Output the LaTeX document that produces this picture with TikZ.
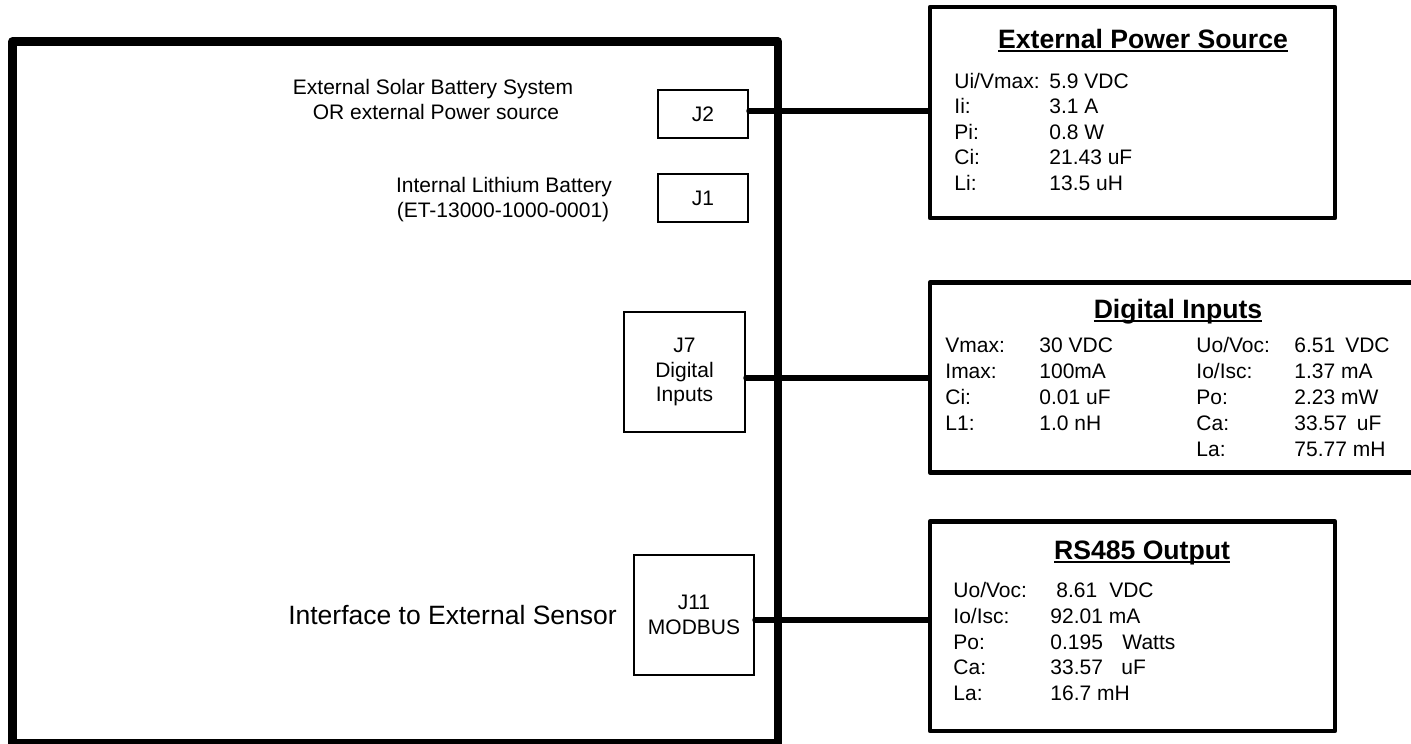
\documentclass[tikz,border=0pt]{standalone}
\usepackage{fontspec}
\setmainfont{Liberation Sans}
\newcommand\bodyfont{\fontsize{10.5}{12.2}\selectfont}
\newcommand\ttlfont{\fontsize{13.3}{16}\selectfont\bfseries}
\newcommand\bigfont{\fontsize{13.25}{16}\selectfont}
\newcommand\ulbox[1]{\sbox0{#1}\rlap{\rule[-1.9pt]{\wd0}{1.35pt}}\usebox0}
\begin{document}
\begin{tikzpicture}[x=0.5pt,y=-0.5pt,
  txt/.style={inner sep=0pt, anchor=base west, font=\bodyfont},
  ctxt/.style={inner sep=0pt, anchor=base, font=\bodyfont},
  ttl/.style={inner sep=0pt, anchor=base, font=\ttlfont},
  jbox/.style={draw, line width=1pt, inner sep=0pt, font=\bodyfont, align=center},
  panel/.style={draw, line width=2.25pt, line join=round, inner sep=0pt},
  mainbox/.style={draw, line width=4.25pt, line join=round, inner sep=0pt},
  wire/.style={line width=2.75pt, line cap=round}]
\clip (0,0) rectangle (1411,743);
% main enclosure
\node[mainbox, minimum width=382.75pt, minimum height=351pt] (main) at (395.25,392.5) {};
% connectors on the board
\node[jbox, minimum width=45pt, minimum height=24pt] (j2) at (703,114) {J2};
\node[jbox, minimum width=45pt, minimum height=24pt] (j1) at (703,198) {J1};
\node[jbox, minimum width=60.5pt, minimum height=60pt] (j7) at (684.5,372) {J7\\Digital\\Inputs};
\node[jbox, minimum width=60pt, minimum height=60pt] (j11) at (694,615) {J11\\MODBUS};
% board texts
\node[ctxt] (s1) at (433,94.5) {External Solar Battery System};
\node[ctxt] (s2) at (436,119.5) {OR external Power source};
\node[ctxt] (b1) at (504,192.5) {Internal Lithium Battery};
\node[ctxt] (b2) at (503,217.5) {(ET-13000-1000-0001)};
\node[inner sep=0pt, anchor=base, font=\bigfont] (ifc) at (452.5,624.5) {Interface to External Sensor};
% panels
\node[panel, minimum width=202.5pt, minimum height=105.5pt] (eps) at (1132.5,112.5) {};
\node[panel, minimum width=250pt, minimum height=95pt] (di) at (1180,377.5) {};
\node[panel, minimum width=202.5pt, minimum height=104.75pt] (rs) at (1132.5,626.25) {};
% wires
\path ([yshift=1.5pt]j2.east) coordinate (w2);
\draw[wire] (w2) -- (w2 -| eps.west);
\path ([yshift=-3pt]j7.east) coordinate (w7);
\draw[wire] (w7) -- (w7 -| di.west);
\path ([yshift=-2.5pt]j11.east) coordinate (w11);
\draw[wire] (w11) -- (w11 -| rs.west);
% External Power Source
\node[ttl] (epst) at (1143,48.5) {\ulbox{External Power Source}};
\node[txt] (el1) at (954,88.5) {Ui/Vmax:};
\node[txt] (ev1) at (1049,88.5) {5.9 VDC};
\node[txt] (el2) at (954,114) {Ii:};
\node[txt] (ev2) at (1049,114) {3.1 A};
\node[txt] (el3) at (954,139.5) {Pi:};
\node[txt] (ev3) at (1049,139.5) {0.8 W};
\node[txt] (el4) at (954,165) {Ci:};
\node[txt] (ev4) at (1049,165) {21.43 uF};
\node[txt] (el5) at (954,190.5) {Li:};
\node[txt] (ev5) at (1049,190.5) {13.5 uH};
% Digital Inputs
\node[ttl] (dit) at (1178,318.5) {\ulbox{Digital Inputs}};
\node[txt] (dl1) at (945,352.5) {Vmax:};
\node[txt] (dv1) at (1039,352.5) {30 VDC};
\node[txt] (dl2) at (945,378.5) {Imax:};
\node[txt] (dv2) at (1039,378.5) {100mA};
\node[txt] (dl3) at (945,404.5) {Ci:};
\node[txt] (dv3) at (1039,404.5) {0.01 uF};
\node[txt] (dl4) at (945,430.5) {L1:};
\node[txt] (dv4) at (1039,430.5) {1.0 nH};
\node[txt] (dr1) at (1196,352.5) {Uo/Voc:};
\node[txt] (dw1) at (1294,352.5) {6.51\hspace{5pt}VDC};
\node[txt] (dr2) at (1196,378.5) {Io/Isc:};
\node[txt] (dw2) at (1294,378.5) {1.37 mA};
\node[txt] (dr3) at (1196,404.5) {Po:};
\node[txt] (dw3) at (1294,404.5) {2.23 mW};
\node[txt] (dr4) at (1196,430.5) {Ca:};
\node[txt] (dw4) at (1294,430.5) {33.57\hspace{5pt}uF};
\node[txt] (dr5) at (1196,456.5) {La:};
\node[txt] (dw5) at (1294,456.5) {75.77 mH};
% RS485 Output
\node[ttl] (rst) at (1142,559.5) {\ulbox{RS485 Output}};
\node[txt] (rl1) at (953,597.5) {Uo/Voc:};
\node[txt] (rv1) at (1056,597.5) {8.61\hspace{6pt}VDC};
\node[txt] (rl2) at (953,623.25) {Io/Isc:};
\node[txt] (rv2) at (1050,623.25) {92.01 mA};
\node[txt] (rl3) at (953,649) {Po:};
\node[txt] (rv3) at (1050,649) {0.195\hspace{9.75pt}Watts};
\node[txt] (rl4) at (953,674.75) {Ca:};
\node[txt] (rv4) at (1050,674.75) {33.57\hspace{9.25pt}uF};
\node[txt] (rl5) at (953,700.5) {La:};
\node[txt] (rv5) at (1050,700.5) {16.7 mH};
\end{tikzpicture}
\end{document}
